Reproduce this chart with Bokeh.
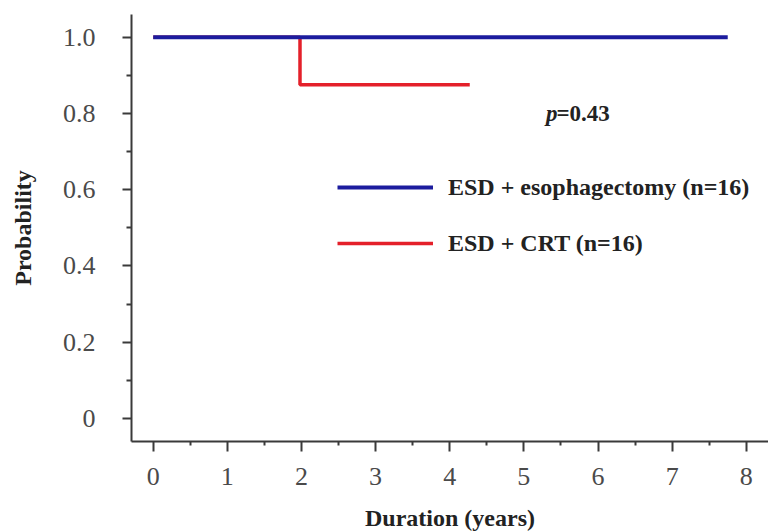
from bokeh.plotting import figure
from bokeh.models import FixedTicker, Legend, LegendItem, Label, Range1d
from bokeh.embed import file_html
from bokeh.resources import INLINE

# ---- data ----
years_esophagectomy = [0, 7.75]
surv_esophagectomy = [1.0, 1.0]
years_crt = [0, 1.98, 4.27]
surv_crt = [1.0, 0.875, 0.875]

x_ticks = [0, 1, 2, 3, 4, 5, 6, 7, 8]
x_minor_ticks = [0.5, 1.5, 2.5, 3.5, 4.5, 5.5, 6.5, 7.5]
y_ticks = [0, 0.2, 0.4, 0.6, 0.8, 1.0]
y_tick_labels = ["0", "0.2", "0.4", "0.6", "0.8", "1.0"]
y_minor_ticks = [0.1, 0.3, 0.5, 0.7, 0.9]

series_labels = ["ESD + esophagectomy (n=16)", "ESD + CRT (n=16)"]
p_value_text = "=0.43"

SERIF = "Liberation Serif"
BLUE = "#1c1c9e"
RED = "#e4202a"

p = figure(frame_width=637, frame_height=427, output_backend="svg",
           toolbar_location=None,
           x_range=Range1d(-0.293, 8.30), y_range=Range1d(-0.0603, 1.0595),
           min_border_left=131, min_border_right=0, min_border_top=14,
           min_border_bottom=83)
p.outline_line_color = None
p.xgrid.visible = False
p.ygrid.visible = False
p.background_fill_color = "white"
p.border_fill_color = "white"

red_r = p.step(years_crt, surv_crt, mode="after", line_color=RED, line_width=3.5)
blue_r = p.step(years_esophagectomy, surv_esophagectomy, mode="after",
                line_color=BLUE, line_width=4)

# axes
for ax in (p.xaxis[0], p.yaxis[0]):
    ax.axis_line_width = 2
    ax.axis_line_color = "#3a3a3a"
    ax.major_tick_line_color = "#3a3a3a"
    ax.minor_tick_line_color = "#3a3a3a"
    ax.major_tick_line_width = 2
    ax.minor_tick_line_width = 2
    ax.major_tick_in = 0
    ax.minor_tick_in = 0
    ax.major_label_text_font = SERIF
    ax.major_label_text_font_size = "26px"
    ax.major_label_text_color = "#4a4a4a"
    ax.axis_label_text_font = SERIF
    ax.axis_label_text_font_size = "24px"
    ax.axis_label_text_font_style = "bold"
    ax.axis_label_text_color = "#222222"

p.xaxis.ticker = FixedTicker(ticks=x_ticks, minor_ticks=x_minor_ticks)
p.xaxis.major_tick_out = 10
p.xaxis.minor_tick_out = 4
p.xaxis.major_label_standoff = 16
p.xaxis.axis_label = "Duration (years)"
p.xaxis.axis_label_standoff = 17

p.yaxis.ticker = FixedTicker(ticks=y_ticks, minor_ticks=y_minor_ticks)
p.yaxis.major_label_overrides = {t: s for t, s in zip(y_ticks, y_tick_labels)}
p.yaxis.major_tick_out = 9
p.yaxis.minor_tick_out = 5
p.yaxis.major_label_standoff = 27
p.yaxis.axis_label = "Probability"
p.yaxis.axis_label_standoff = 24

legend = Legend(items=[LegendItem(label=series_labels[0], renderers=[blue_r]),
                       LegendItem(label=series_labels[1], renderers=[red_r])],
                location=(206, 183), orientation="vertical",
                glyph_width=96, glyph_height=30, label_height=30,
                label_standoff=15, spacing=26, padding=0, margin=0,
                border_line_color=None, background_fill_alpha=0,
                label_text_font=SERIF, label_text_font_size="24px",
                label_text_font_style="bold", label_text_color="#222222")
p.add_layout(legend, "center")

p_x, p_y, eq_x = 5.30, 0.80, 5.44
p.add_layout(Label(x=p_x, y=p_y, text="p", text_font=SERIF, text_font_size="23px",
                   text_font_style="bold italic", text_baseline="middle",
                   text_color="#222222"))
p.add_layout(Label(x=eq_x, y=p_y, text=p_value_text, text_font=SERIF,
                   text_font_size="23px", text_font_style="bold",
                   text_baseline="middle", text_color="#222222"))

open("out.html", "w").write(file_html(p, INLINE))
